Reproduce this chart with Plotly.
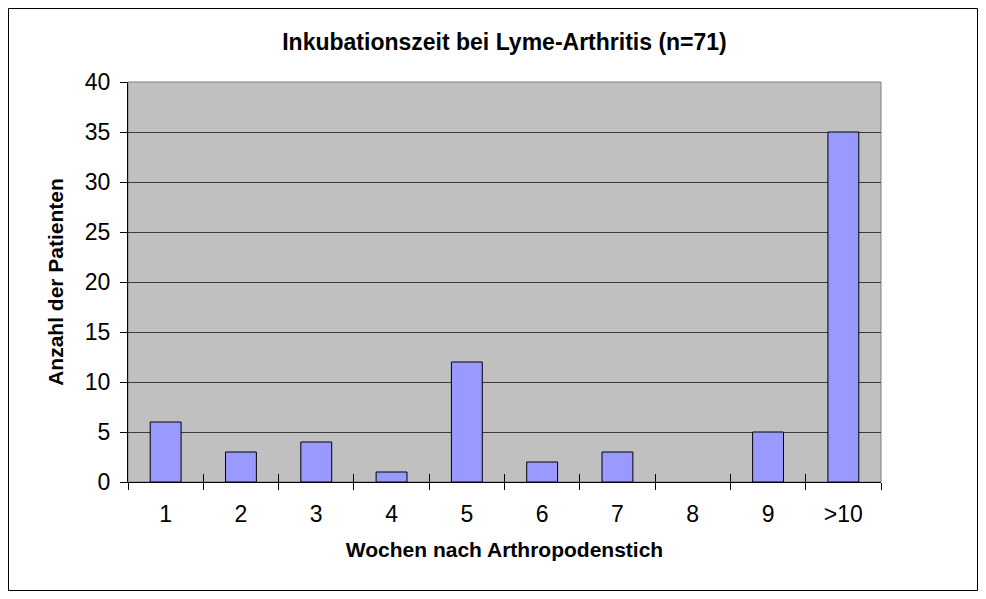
import plotly.graph_objects as go

categories = ["1", "2", "3", "4", "5", "6", "7", "8", "9", ">10"]
patients = [6, 3, 4, 1, 12, 2, 3, 0, 5, 35]
y_ticks = [0, 5, 10, 15, 20, 25, 30, 35, 40]

FONT = "Liberation Sans, Arial, sans-serif"

# page body has an 8px margin, so the figure is made slightly smaller
W, H = 970, 583
L, T = 120, 74
PW, PH = 753, 400
R, B = W - L - PW, H - T - PH

outline_widths = [1 if v > 0 else 0 for v in patients]

fig = go.Figure()
fig.add_trace(
    go.Bar(
        x=categories,
        y=patients,
        marker=dict(color="#9999FF", line=dict(color="#000000", width=outline_widths)),
        width=0.41,
        hoverinfo="x+y",
    )
)
# invisible copy on an overlay axis, used only to draw inside tick marks
fig.add_trace(
    go.Bar(
        x=categories,
        y=patients,
        xaxis="x2",
        marker=dict(color="rgba(0,0,0,0)", line=dict(width=0)),
        width=0.41,
        hoverinfo="skip",
        showlegend=False,
    )
)

fig.update_layout(
    width=W,
    height=H,
    margin=dict(l=L, r=R, t=T, b=B, autoexpand=False),
    paper_bgcolor="white",
    plot_bgcolor="#C0C0C0",
    showlegend=False,
    font=dict(family=FONT, color="black"),
    title=dict(
        text="<b>Inkubationszeit bei Lyme-Arthritis (n=71)</b>",
        x=0.5,
        xref="paper",
        xanchor="center",
        y=1 - 33.5 / H,
        yref="container",
        yanchor="middle",
        font=dict(size=23, family=FONT, color="black"),
    ),
    xaxis=dict(
        type="category",
        range=[-0.5, 9.5],
        showgrid=False,
        ticks="outside",
        ticklen=7,
        tickcolor="black",
        tickwidth=1,
        tickson="boundaries",
        showline=True,
        linecolor="black",
        linewidth=1,
        tickfont=dict(size=23, family=FONT, color="black"),
        ticklabelstandoff=11,
        title=dict(
            text="<b>Wochen nach Arthropodenstich</b>",
            font=dict(size=21, family=FONT, color="black"),
            standoff=16,
        ),
        zeroline=False,
    ),
    xaxis2=dict(
        type="category",
        overlaying="x",
        anchor="y",
        side="bottom",
        range=[-0.5, 9.5],
        showgrid=False,
        ticks="inside",
        ticklen=8,
        tickcolor="black",
        tickwidth=1,
        tickson="boundaries",
        showticklabels=False,
        showline=False,
        zeroline=False,
    ),
    yaxis=dict(
        range=[0, 40],
        tickvals=y_ticks,
        showgrid=True,
        gridcolor="#3a3a3a",
        gridwidth=1,
        ticks="outside",
        ticklen=7,
        tickcolor="black",
        showline=True,
        linecolor="black",
        linewidth=1,
        tickfont=dict(size=23, family=FONT, color="black"),
        ticklabelstandoff=5,
        title=dict(
            text="<b>Anzahl der Patienten</b>",
            font=dict(size=21, family=FONT, color="black"),
            standoff=15,
        ),
        zeroline=False,
    ),
    shapes=[
        dict(
            type="rect", xref="paper", yref="paper",
            x0=0, x1=1, y0=0, y1=1,
            line=dict(color="#808080", width=1),
            fillcolor="rgba(0,0,0,0)",
            layer="below",
        ),
        dict(
            type="rect", xref="paper", yref="paper",
            x0=-(L - 0.5) / PW, x1=1 + (R - 0.5) / PW,
            y0=-(B - 0.5) / PH, y1=1 + (T - 0.5) / PH,
            line=dict(color="black", width=1),
            fillcolor="rgba(0,0,0,0)",
            layer="above",
        ),
    ],
)

fig.write_html("out.html")
